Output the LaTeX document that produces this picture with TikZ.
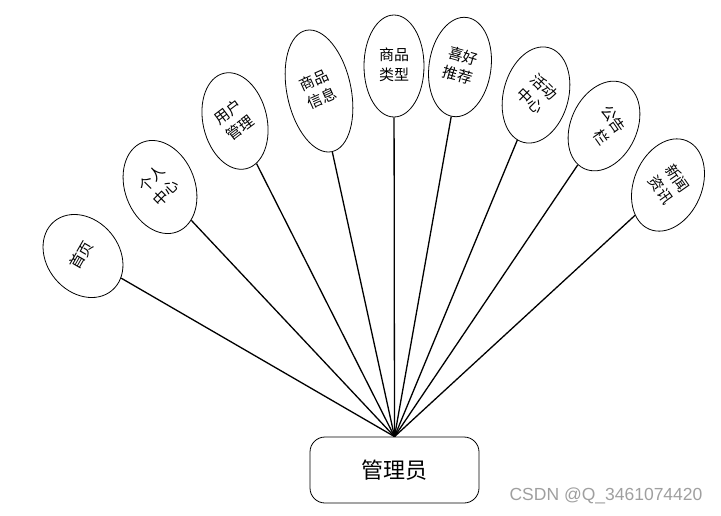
\documentclass[tikz,border=0pt]{standalone}
\usepackage{fontspec}
\setmainfont{Noto Sans CJK SC}
\newfontfamily\wmfont{Liberation Sans}
\usetikzlibrary{shapes.geometric}

\tikzset{
  func/.style={ellipse,draw,line width=0.8pt,inner sep=0pt,
    font=\fontsize{15}{20}\selectfont},
  role/.style={draw,line width=0.8pt,rounded corners=15pt,
    minimum width=169pt,minimum height=66pt,font=\fontsize{22}{26}\selectfont},
  link/.style={line width=1.3pt}
}
\newcommand{\etext}[2]{\rotatebox{#1}{\begin{tabular}{@{}c@{}}#2\end{tabular}}}

\begin{document}
\begin{tikzpicture}[x=1pt,y=-1pt]
  \useasboundingbox (0,0) rectangle (721,515);
  % Pixel coordinates, y grows downwards
  % Role box at the bottom, all links meet at its top centre
  \node[role] (admin) at (394.5,470) {管理员};

  % Function ellipses: name/x/y/shape rotation/extra text rotation/half major/half minor/text
  \foreach \n/\x/\y/\r/\d/\a/\b/\t in {%
    home/83/256/40/20/45/36/{首页},
    self/160/187/21/24/48/35/{个人\\中心},
    user/235/121/13/24/49/32/{用户\\管理},
    goods/319/91/12/12/62/32/{商品\\信息},
    kind/394/66/0/0/51/30/{商品\\类型},
    pref/460/67/-8/-8/50/31/{喜好\\推荐},
    event/536/95/-15/-30/49/32/{活动\\中心},
    board/604/126/-25/-30/47/33/{公告\\\hphantom{公}栏},
    news/668/185/-23/-32/48/34/{新闻\\资讯}} {
    \node[func,rotate=\r,minimum width=2*\b pt,minimum height=2*\a pt]
      (\n) at (\x,\y) {\etext{\d}{\t}};
    \draw[link] (\n) -- (admin.north);
  }

  % Watermark
  \node[text=gray!75,font=\wmfont\fontsize{17.5}{20}\selectfont,anchor=east]
    (mark) at (706,496) {CSDN @Q\_3461074420};
\end{tikzpicture}
\end{document}
